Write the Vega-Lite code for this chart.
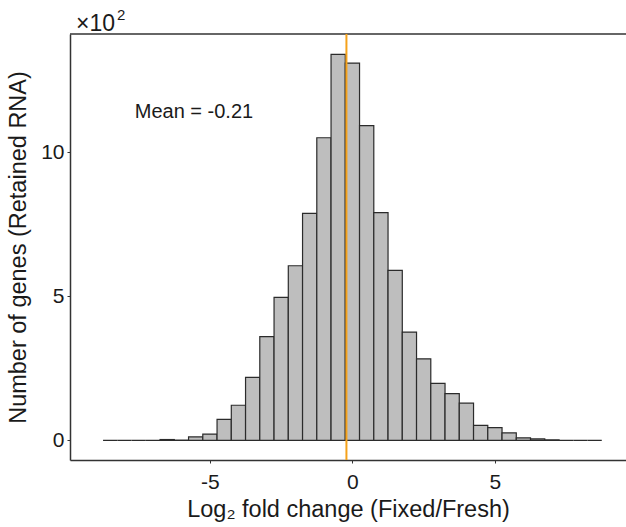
{
  "$schema": "https://vega.github.io/schema/vega-lite/v6.json",
  "width": 556,
  "height": 426,
  "autosize": "none",
  "padding": {"left": 70, "top": 34, "right": 0, "bottom": 67},
  "background": "white",
  "config": {
    "view": {"stroke": null},
    "axis": {"grid": false, "domainColor": "#333333", "domainWidth": 1.5, "tickColor": "#333333", "tickSize": 3, "labelFont": "Liberation Sans", "titleFont": "Liberation Sans", "labelColor": "#1a1a1a", "titleColor": "#1a1a1a", "labelFontSize": 21, "titleFontSize": 23.5, "titleFontWeight": "normal"}
  },
  "layer": [
    {
      "data": {"values": [
        {"lo": -8.75, "hi": -8.25, "n": 0},
        {"lo": -8.25, "hi": -7.75, "n": 0},
        {"lo": -7.75, "hi": -7.25, "n": 0},
        {"lo": -7.25, "hi": -6.75, "n": 0},
        {"lo": -6.75, "hi": -6.25, "n": 3},
        {"lo": -6.25, "hi": -5.75, "n": 1},
        {"lo": -5.75, "hi": -5.25, "n": 12},
        {"lo": -5.25, "hi": -4.75, "n": 22},
        {"lo": -4.75, "hi": -4.25, "n": 73},
        {"lo": -4.25, "hi": -3.75, "n": 122},
        {"lo": -3.75, "hi": -3.25, "n": 219},
        {"lo": -3.25, "hi": -2.75, "n": 360},
        {"lo": -2.75, "hi": -2.25, "n": 496},
        {"lo": -2.25, "hi": -1.75, "n": 606},
        {"lo": -1.75, "hi": -1.25, "n": 788},
        {"lo": -1.25, "hi": -0.75, "n": 1050},
        {"lo": -0.75, "hi": -0.25, "n": 1339},
        {"lo": -0.25, "hi": 0.25, "n": 1309},
        {"lo": 0.25, "hi": 0.75, "n": 1092},
        {"lo": 0.75, "hi": 1.25, "n": 790},
        {"lo": 1.25, "hi": 1.75, "n": 590},
        {"lo": 1.75, "hi": 2.25, "n": 376},
        {"lo": 2.25, "hi": 2.75, "n": 283},
        {"lo": 2.75, "hi": 3.25, "n": 198},
        {"lo": 3.25, "hi": 3.75, "n": 162},
        {"lo": 3.75, "hi": 4.25, "n": 129},
        {"lo": 4.25, "hi": 4.75, "n": 52},
        {"lo": 4.75, "hi": 5.25, "n": 44},
        {"lo": 5.25, "hi": 5.75, "n": 26},
        {"lo": 5.75, "hi": 6.25, "n": 9},
        {"lo": 6.25, "hi": 6.75, "n": 5},
        {"lo": 6.75, "hi": 7.25, "n": 2},
        {"lo": 7.25, "hi": 7.75, "n": 0},
        {"lo": 7.75, "hi": 8.25, "n": 0},
        {"lo": 8.25, "hi": 8.75, "n": 0}
      ]},
      "mark": {"type": "rect", "fill": "#BEBEBE", "stroke": "#2b2b2b", "strokeWidth": 1.2},
      "encoding": {
        "x": {"field": "lo", "type": "quantitative", "scale": {"domain": [-9.91, 9.6], "nice": false, "zero": false},
              "axis": {"values": [-5, 0, 5], "labelExpr": "datum.value < 0 ? '-' + abs(datum.value) : '' + datum.value", "title": "Log₂ fold change (Fixed/Fresh)", "labelPadding": 8, "titlePadding": 5}},
        "x2": {"field": "hi"},
        "y": {"field": "n", "type": "quantitative", "scale": {"domain": [-68, 1410], "nice": false, "zero": false},
              "axis": {"values": [0, 500, 1000], "labelExpr": "'' + (datum.value / 100)", "title": "Number of genes (Retained RNA)", "labelPadding": 3, "titlePadding": 10}},
        "y2": {"datum": 0}
      }
    },
    {
      "data": {"values": [{"top": 1410}]},
      "mark": {"type": "rule", "color": "#333333", "strokeWidth": 1.5},
      "encoding": {"y": {"field": "top", "type": "quantitative"}}
    },
    {
      "data": {"values": [{"mean": -0.21}]},
      "mark": {"type": "rule", "color": "#F5A21B", "strokeWidth": 2},
      "encoding": {"x": {"field": "mean", "type": "quantitative"}}
    },
    {
      "data": {"values": [{"x": -5.56, "y": 1140, "label": "Mean = -0.21"}]},
      "mark": {"type": "text", "font": "Liberation Sans", "fontSize": 20, "color": "#1a1a1a", "align": "center", "baseline": "middle"},
      "encoding": {
        "x": {"field": "x", "type": "quantitative"},
        "y": {"field": "y", "type": "quantitative"},
        "text": {"field": "label"}
      }
    },
    {
      "data": {"values": [{"x": -9.91, "y": 1421, "label": "×10"}]},
      "mark": {"type": "text", "font": "Liberation Sans", "fontSize": 23, "color": "#1a1a1a", "align": "left", "baseline": "alphabetic", "dx": 6},
      "encoding": {
        "x": {"field": "x", "type": "quantitative"},
        "y": {"field": "y", "type": "quantitative"},
        "text": {"field": "label"}
      }
    },
    {
      "data": {"values": [{"x": -9.91, "y": 1421, "label": "2"}]},
      "mark": {"type": "text", "font": "Liberation Sans", "fontSize": 15, "color": "#1a1a1a", "align": "left", "baseline": "alphabetic", "dx": 47, "dy": -11},
      "encoding": {
        "x": {"field": "x", "type": "quantitative"},
        "y": {"field": "y", "type": "quantitative"},
        "text": {"field": "label"}
      }
    }
  ]
}
